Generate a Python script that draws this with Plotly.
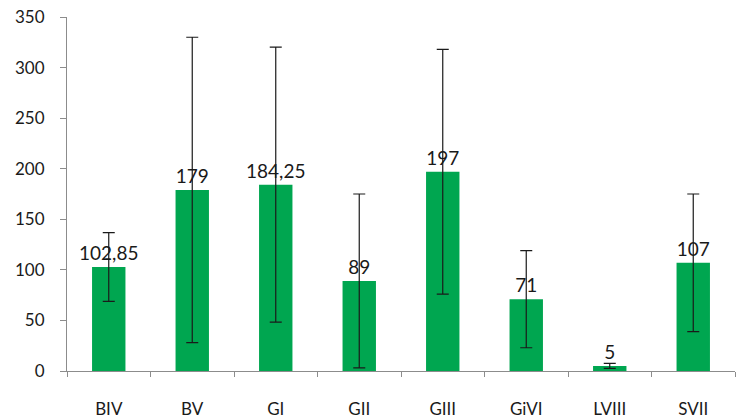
import plotly.graph_objects as go

categories = ["BIV", "BV", "GI", "GII", "GIII", "GiVI", "LVIII", "SVII"]
values = [102.85, 179, 184.25, 89, 197, 71, 5, 107]
errors = [34, 151, 136, 86, 121, 48, 2.5, 68]
labels = ["102,85", "179", "184,25", "89", "197", "71", "5", "107"]
y_ticks = [0, 50, 100, 150, 200, 250, 300, 350]

fig = go.Figure(go.Bar(
    x=categories, y=values,
    marker=dict(color="#00A650", line=dict(width=0)),
    error_y=dict(type="data", array=errors, visible=True, color="#1a1a1a", thickness=1.2, width=6),
    text=labels, textposition="outside", cliponaxis=False, constraintext="none",
    textfont=dict(family="Lato, sans-serif", size=19, color="#1a1a1a"),
))

fig.update_layout(
    width=744, height=418,
    margin=dict(l=67, r=9, t=17, b=47, autoexpand=False),
    paper_bgcolor="white", plot_bgcolor="white",
    bargap=0.6, showlegend=False,
    font=dict(family="Lato, sans-serif", size=17, color="#1a1a1a"),
)
fig.update_xaxes(
    showline=True, linecolor="#8c8c8c", linewidth=1, automargin=False,
    ticks="outside", tickson="boundaries", ticklen=5, tickcolor="#8c8c8c",
    tickfont=dict(size=17), showgrid=False, ticklabelstandoff=23,
)
fig.update_yaxes(
    range=[0, 350], tickvals=y_ticks, automargin=False,
    showline=True, linecolor="#8c8c8c", linewidth=1,
    ticks="outside", ticklen=6, tickcolor="#8c8c8c",
    tickfont=dict(size=17), showgrid=False, zeroline=False, ticklabelstandoff=12,
)

fig.write_html(
    "out.html",
    config={"displayModeBar": False},
    post_script="document.body.style.margin='0';document.body.style.overflow='hidden';",
)
